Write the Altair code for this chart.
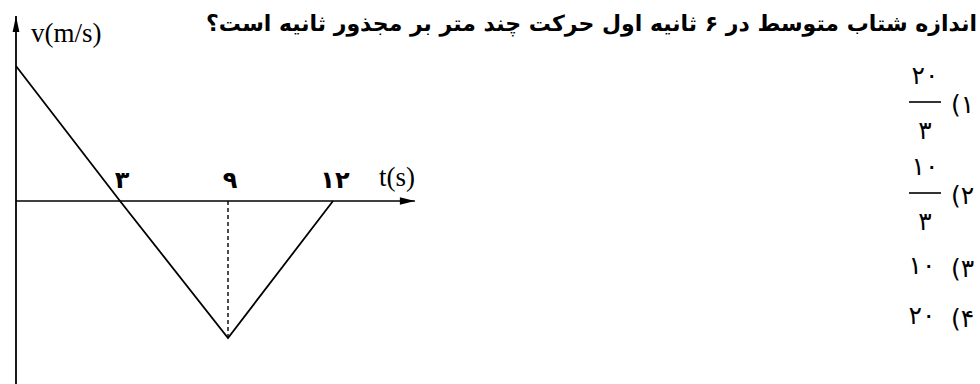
import altair as alt
import pandas as pd

# v-t graph: velocity falls linearly through zero at t=3, bottoms out at t=9, back to zero at t=12
t_points = [0, 3, 9, 12]
v_points = [20, 0, -20, 0]

tick_t = [3, 9, 12]
tick_labels = ["۳", "۹", "۱۲"]

question = "اندازه شتاب متوسط در ۶ ثانیه اول حرکت چند متر بر مجذور ثانیه است؟"
option_marks = ["(۱", "(۲", "(۳", "(۴"]
option_numerators = ["۲۰", "۱۰", "۱۰", "۲۰"]
option_denominators = ["۳", "۳", "", ""]

t_axis_end = 14.34
v_axis_top = 27.4
v_axis_bottom = -27.5

PERSIAN = "DejaVu Sans"
SERIF = "Liberation Serif"

# schematic (piecewise) time axis, as in the textbook sketch
x_scale = alt.Scale(domain=[0, 3, 9, 12], range=[16, 120, 228, 333], nice=False, zero=False)
y_scale = alt.Scale(domain=[-20, 0, 20], range=[338, 201, 66], nice=False, zero=False)


def X(field):
    return alt.X(field, type="quantitative", scale=x_scale, axis=None)


def Y(field):
    return alt.Y(field, type="quantitative", scale=y_scale, axis=None)


curve = pd.DataFrame({"t": t_points, "v": v_points})

line = alt.Chart(curve).mark_line(color="black", strokeWidth=1.8).encode(
    x=X("t"), y=Y("v"), order="t:Q"
)

# coordinate axes with arrow heads
y_axis = alt.Chart(pd.DataFrame({"t": [0], "v": [v_axis_bottom], "v2": [v_axis_top]})).mark_rule(
    color="black", strokeWidth=1.8
).encode(x=X("t"), y=Y("v"), y2="v2")

x_axis = alt.Chart(pd.DataFrame({"t": [0], "t2": [t_axis_end], "v": [0]})).mark_rule(
    color="black", strokeWidth=1.6
).encode(x=X("t"), x2="t2", y=Y("v"))

up_arrow = alt.Chart(pd.DataFrame({"t": [0], "v": [v_axis_top]})).mark_point(
    shape="M0,0 L-0.42,2 L0.42,2 Z", size=256, filled=True, color="black", opacity=1
).encode(x=X("t"), y=Y("v"))

right_arrow = alt.Chart(pd.DataFrame({"t": [t_axis_end], "v": [0]})).mark_point(
    shape="M0,0 L-2,-0.5 L-2,0.5 Z", size=225, filled=True, color="black", opacity=1
).encode(x=X("t"), y=Y("v"))

# dashed drop line from the minimum to the time axis
drop = alt.Chart(pd.DataFrame({"t": [tick_t[1]], "v": [0], "v2": [v_points[2]]})).mark_rule(
    color="black", strokeWidth=1.4, strokeDash=[4, 3]
).encode(x=X("t"), y=Y("v"), y2="v2")

ticks = pd.DataFrame({"t": tick_t, "label": tick_labels, "v": [0] * len(tick_t)})
tick_text = alt.Chart(ticks).mark_text(
    font=PERSIAN, fontSize=24, fontWeight="bold", baseline="middle", dy=-20, dx=2, color="black"
).encode(x=X("t"), y=Y("v"), text="label:N")

v_label = alt.Chart(pd.DataFrame({"t": [0], "v": [v_axis_top], "s": ["v(m/s)"]})).mark_text(
    font=SERIF, fontSize=27, align="left", baseline="middle", dx=15, dy=18, color="black"
).encode(x=X("t"), y=Y("v"), text="s:N")

t_label = alt.Chart(pd.DataFrame({"t": [t_axis_end], "v": [0], "s": ["t(s)"]})).mark_text(
    font=SERIF, fontSize=27, align="right", baseline="middle", dx=0, dy=-23, color="black"
).encode(x=X("t"), y=Y("v"), text="s:N")

title = alt.Chart(pd.DataFrame({"s": [question]})).mark_text(
    font=PERSIAN, fontSize=22, fontWeight="bold", align="right", baseline="middle", color="black"
).encode(x=alt.value(977), y=alt.value(24), text="s:N")

# answer choices, right-hand column
opt_rows = [102, 193, 266, 316]
opts = pd.DataFrame({
    "mark": option_marks,
    "num": option_numerators,
    "den": option_denominators,
    "row": opt_rows,
})
fraction = opts[opts["den"] != ""]
plain = opts[opts["den"] == ""]

mark_text = alt.Chart(opts).mark_text(
    font=PERSIAN, fontSize=25, align="left", baseline="middle", dy=3, color="black"
).encode(x=alt.value(951), y=alt.Y("row:Q", scale=None), text="mark:N")

num_text = alt.Chart(fraction).mark_text(
    font=PERSIAN, fontSize=25, align="center", baseline="middle", dy=-26, color="black"
).encode(x=alt.value(925), y=alt.Y("row:Q", scale=None), text="num:N")

den_text = alt.Chart(fraction).mark_text(
    font=PERSIAN, fontSize=25, align="center", baseline="middle", dy=29, color="black"
).encode(x=alt.value(925), y=alt.Y("row:Q", scale=None), text="den:N")

bars = alt.Chart(fraction).mark_rule(color="black", strokeWidth=1.6).encode(
    x=alt.value(909), x2=alt.value(941), y=alt.Y("row:Q", scale=None)
)

plain_text = alt.Chart(plain).mark_text(
    font=PERSIAN, fontSize=25, align="center", baseline="middle", color="black"
).encode(x=alt.value(922), y=alt.Y("row:Q", scale=None), text="num:N")

chart = alt.layer(
    line, y_axis, x_axis, up_arrow, right_arrow, drop, tick_text, v_label, t_label,
    title, mark_text, num_text, den_text, bars, plain_text
).resolve_scale(y="independent", x="independent").properties(
    width=980, height=384, autosize=alt.AutoSizeParams(type="none"), padding=0,
    background="white"
).configure_view(stroke=None)

chart.save("out.html", embed_options={"renderer": "svg", "actions": False})
